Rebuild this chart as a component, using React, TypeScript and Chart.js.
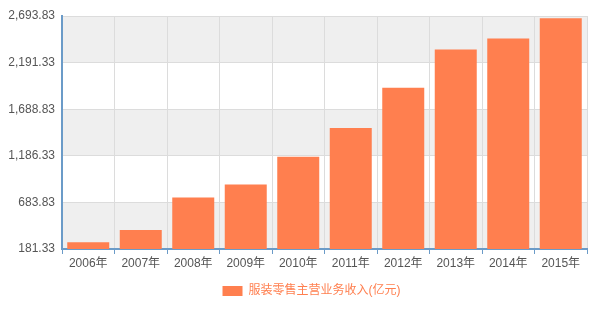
import React, { useEffect, useRef } from "react";
import { Chart, registerables } from "chart.js";

Chart.register(...registerables);

const categories = ["2006年", "2007年", "2008年", "2009年", "2010年", "2011年", "2012年", "2013年", "2014年", "2015年"];
const revenue = [254, 385, 738, 877, 1175, 1485, 1921, 2333, 2450, 2669];
const yTicks = [181.33, 683.83, 1186.33, 1688.83, 2191.33, 2693.83];
const seriesName = "服装零售主营业务收入(亿元)";

const FONT = "'Liberation Sans', 'Noto Sans CJK SC', sans-serif";
const BAR = "#ff7f4f";
const AXIS = "#6b9bc8";

const bandPlugin = {
  id: "bands",
  beforeDraw(chart: any) {
    const { ctx, chartArea, scales } = chart;
    const y = scales.y;
    ctx.save();
    for (let i = 0; i < yTicks.length - 1; i++) {
      const top = y.getPixelForValue(yTicks[i + 1]);
      const bot = y.getPixelForValue(yTicks[i]);
      ctx.fillStyle = i % 2 === 0 ? "#efefef" : "#ffffff";
      ctx.fillRect(chartArea.left, top, chartArea.right - chartArea.left, bot - top);
    }
    ctx.restore();
  },
};

const legendShift = {
  id: "legendShift",
  afterLayout(chart: any) {
    if (chart.legend) {
      chart.legend.left += 36;
    }
  },
};

export default function App() {
  const ref = useRef<HTMLCanvasElement | null>(null);
  useEffect(() => {
    if (!ref.current) return;
    const chart = new Chart(ref.current, {
      type: "bar",
      data: {
        labels: categories,
        datasets: [
          {
            label: seriesName,
            data: revenue,
            backgroundColor: BAR,
            borderWidth: 0,
            categoryPercentage: 0.8,
            barPercentage: 1,
          },
        ],
      },
      options: {
        animation: false,
        responsive: false,
        maintainAspectRatio: false,
        layout: { padding: { left: 0, right: 13, top: 16, bottom: 8 } },
        plugins: {
          tooltip: { enabled: false },
          legend: {
            position: "bottom",
            labels: {
              boxWidth: 20,
              boxHeight: 10,
              color: BAR,
              padding: 14,
              font: { family: FONT, size: 12 },
            },
          },
        },
        scales: {
          x: {
            offset: true,
            grid: {
              offset: true,
              color: "#dcdcdc",
              tickColor: AXIS,
              tickLength: 5,
              lineWidth: 1,
            },
            border: { color: AXIS, width: 2 },
            ticks: { color: "#555", font: { family: FONT, size: 12 }, padding: 2, maxRotation: 0 },
            afterFit(scale: any) {
              scale.height = 22;
            },
          },
          y: {
            min: yTicks[0],
            max: yTicks[yTicks.length - 1],
            afterBuildTicks(scale: any) {
              scale.ticks = yTicks.map((v) => ({ value: v }));
            },
            grid: { color: "#dcdcdc", drawTicks: false },
            border: { color: AXIS, width: 2 },
            ticks: {
              color: "#555",
              padding: 7,
              font: { family: FONT, size: 12 },
              callback: (v: any) =>
                Number(v).toLocaleString("en-US", { minimumFractionDigits: 2, maximumFractionDigits: 2 }),
            },
            afterFit(scale: any) {
              scale.width = 62;
            },
          },
        },
      },
      plugins: [bandPlugin, legendShift],
    });
    return () => chart.destroy();
  }, []);
  return (
    <div style={{ position: "absolute", left: 0, top: 0, width: 600, height: 315, background: "#fff" }}>
      <canvas ref={ref} width={600} height={315} style={{ width: 600, height: 315, display: "block" }} />
    </div>
  );
}
